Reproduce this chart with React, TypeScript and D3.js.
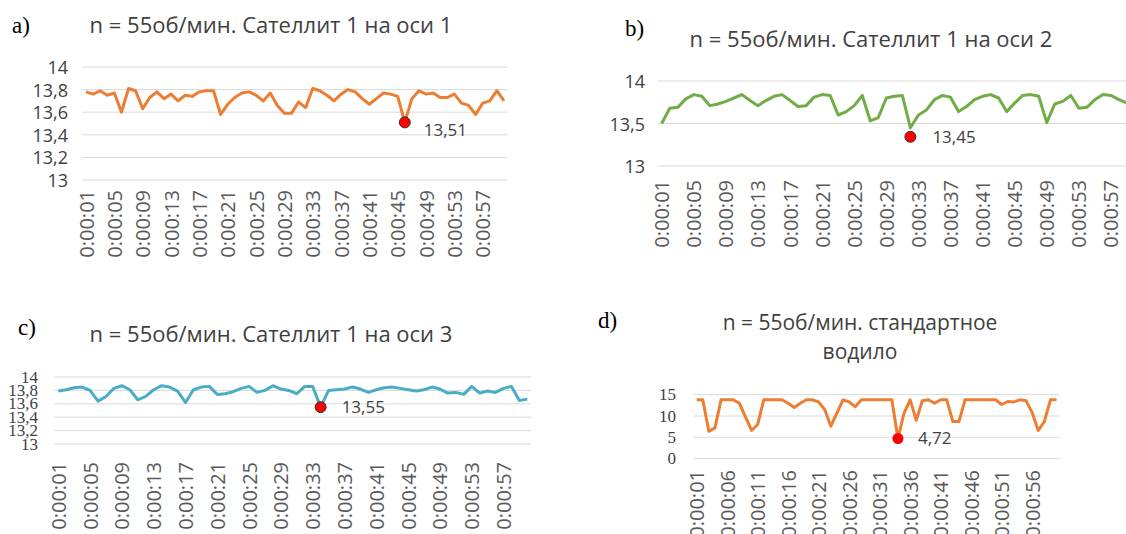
import React from 'react';
import * as d3 from 'd3';

const W = 1126;
const H = 534;

// time categories 0:00:01 … 0:01:00
const timeLabels = d3.range(1, 61).map(s =>
  `0:${String(Math.floor(s / 60)).padStart(2, '0')}:${String(s % 60).padStart(2, '0')}`);

// a) satellite 1 on axis 1
const axis1 = [
  13.78, 13.76, 13.79, 13.75, 13.77, 13.60, 13.81, 13.79, 13.63, 13.73,
  13.78, 13.72, 13.76, 13.70, 13.75, 13.74, 13.78, 13.79, 13.79, 13.58,
  13.67, 13.73, 13.77, 13.78, 13.75, 13.70, 13.77, 13.66, 13.59, 13.59,
  13.69, 13.64, 13.81, 13.79, 13.75, 13.70, 13.76, 13.80, 13.78, 13.72,
  13.67, 13.72, 13.77, 13.76, 13.74, 13.51, 13.72, 13.79, 13.76, 13.77,
  13.73, 13.73, 13.76, 13.68, 13.66, 13.58, 13.68, 13.70, 13.79, 13.70];

// b) satellite 1 on axis 2
const axis2 = [
  13.50, 13.68, 13.69, 13.79, 13.84, 13.82, 13.71, 13.73, 13.76, 13.80,
  13.84, 13.77, 13.71, 13.77, 13.82, 13.84, 13.77, 13.70, 13.71, 13.81,
  13.84, 13.83, 13.60, 13.64, 13.71, 13.83, 13.53, 13.57, 13.80, 13.82,
  13.83, 13.45, 13.60, 13.66, 13.78, 13.83, 13.81, 13.64, 13.70, 13.78,
  13.82, 13.84, 13.80, 13.64, 13.74, 13.83, 13.84, 13.82, 13.51, 13.73,
  13.76, 13.83, 13.68, 13.69, 13.78, 13.84, 13.83, 13.78, 13.74, 13.70];

// c) satellite 1 on axis 3
const axis3 = [
  13.79, 13.81, 13.84, 13.85, 13.80, 13.64, 13.71, 13.83, 13.87, 13.81,
  13.66, 13.71, 13.81, 13.87, 13.85, 13.79, 13.62, 13.81, 13.85, 13.86,
  13.74, 13.75, 13.78, 13.83, 13.86, 13.77, 13.80, 13.87, 13.82, 13.80,
  13.75, 13.86, 13.86, 13.55, 13.80, 13.81, 13.82, 13.85, 13.82, 13.77,
  13.81, 13.84, 13.85, 13.83, 13.81, 13.79, 13.81, 13.85, 13.82, 13.76,
  13.77, 13.74, 13.86, 13.76, 13.79, 13.77, 13.83, 13.86, 13.65, 13.67];

// d) standard carrier
const standard = [
  13.8, 13.8, 6.4, 7.2, 13.8, 13.8, 13.8, 13.0, 9.8, 6.6,
  8.0, 13.8, 13.8, 13.8, 13.8, 13.0, 12.0, 13.0, 13.8, 13.8,
  13.3, 11.5, 7.6, 10.7, 13.8, 13.3, 12.2, 13.8, 13.8, 13.8,
  13.8, 13.8, 13.8, 4.72, 10.7, 13.8, 9.0, 13.6, 13.8, 13.0,
  13.8, 13.8, 8.7, 8.7, 13.8, 13.8, 13.8, 13.8, 13.8, 13.8,
  12.7, 13.4, 13.3, 13.8, 13.6, 10.8, 6.6, 8.7, 13.8, 13.8];

const ticksFine = [13, 13.2, 13.4, 13.6, 13.8, 14];
const ticksHalf = [13, 13.5, 14];
const ticksStd = [0, 5, 10, 15];

const SANS = "'Open Sans', 'Liberation Sans', sans-serif";
const SERIF = "'Liberation Serif', 'Times New Roman', serif";

const panels = [
  {
    letter: 'a)', letterX: 12, letterY: 33,
    title: ['n = 55об/мин. Сателлит 1 на оси 1'], titleX: 271, titleY: [33], titleSize: 22,
    values: axis1, color: '#ED7D31', domain: [13, 14], ticks: ticksFine,
    left: 82.5, right: 507.5, top: 67, bottom: 180,
    tickX: 68, tickFont: SANS, tickSize: 18,
    labelTop: 190, step: 4, markerDy: 0, markerStroke: '#333', labelDx: 19, labelDy: 14,
  },
  {
    letter: 'b)', letterX: 625, letterY: 36,
    title: ['n = 55об/мин. Сателлит 1 на оси 2'], titleX: 871, titleY: [47], titleSize: 22,
    values: axis2, color: '#70AD47', domain: [13, 14], ticks: ticksHalf,
    left: 657.7, right: 1139, top: 81, bottom: 166,
    tickX: 645, tickFont: SANS, tickSize: 18,
    labelTop: 180, step: 4, markerDy: 9, markerStroke: '#333', labelDx: 22, labelDy: 6,
  },
  {
    letter: 'c)', letterX: 18, letterY: 335,
    title: ['n = 55об/мин. Сателлит 1 на оси 3'], titleX: 271, titleY: [342], titleSize: 22,
    values: axis3, color: '#4BACC6', domain: [13, 14], ticks: ticksFine,
    left: 54.3, right: 531.3, top: 377, bottom: 444,
    tickX: 38, tickFont: SERIF, tickSize: 17,
    labelTop: 462, step: 4, markerDy: 0, markerStroke: '#333', labelDx: 21, labelDy: 6,
  },
  {
    letter: 'd)', letterX: 598, letterY: 328,
    title: ['n = 55об/мин. стандартное', 'водило'], titleX: 860, titleY: [330, 359], titleSize: 21,
    values: standard, color: '#ED7D31', domain: [0, 15], ticks: ticksStd,
    left: 693.6, right: 1059.6, top: 394.7, bottom: 458.6,
    tickX: 676, tickFont: SERIF, tickSize: 17,
    labelTop: 470, step: 5, markerDy: 0, markerStroke: 'none', labelDx: 20, labelDy: 6,
  },
];

const fmtComma = (v: number, digits?: number) =>
  (digits === undefined ? String(+v.toFixed(1)) : v.toFixed(digits)).replace('.', ',');

function Panel({ p }: { p: typeof panels[number] }) {
  const x = d3.scaleBand<string>().domain(timeLabels).range([p.left, p.right]);
  const y = d3.scaleLinear().domain(p.domain).range([p.bottom, p.top]);
  const cx = (i: number) => (x(timeLabels[i]) as number) + x.bandwidth() / 2;
  const line = d3.line<number>().x((_, i) => cx(i)).y(v => y(v));
  const iMin = d3.minIndex(p.values);
  const mx = cx(iMin);
  const my = y(p.values[iMin]) + p.markerDy;

  return (
    <g>
      <text x={p.letterX} y={p.letterY} fontFamily={SERIF} fontSize={23} fill="#000">{p.letter}</text>
      {p.title.map((t, k) => (
        <text key={k} x={p.titleX} y={p.titleY[k]} textAnchor="middle" fontFamily={SANS}
          fontSize={p.titleSize} fill="#404040">{t}</text>
      ))}
      {p.ticks.map(t => (
        <g key={t}>
          <line x1={p.left} x2={p.right} y1={y(t)} y2={y(t)} stroke="#D9D9D9" strokeWidth={1} />
          <text x={p.tickX} y={y(t)} textAnchor="end" dominantBaseline="central"
            fontFamily={p.tickFont} fontSize={p.tickSize} fill="#404040">{fmtComma(t)}</text>
        </g>
      ))}
      {timeLabels.map((lab, i) => i % p.step === 0 ? (
        <text key={lab} transform={`translate(${cx(i)},${p.labelTop}) rotate(-90)`}
          textAnchor="end" dominantBaseline="central" fontFamily={SANS} fontSize={20}
          fill="#595959">{lab}</text>
      ) : null)}
      <path d={line(p.values) as string} fill="none" stroke={p.color} strokeWidth={3}
        strokeLinejoin="round" />
      <circle cx={mx} cy={my} r={5.5} fill="#FF0000" stroke={p.markerStroke} strokeWidth={1} />
      <text x={mx + p.labelDx} y={my + p.labelDy} fontFamily={SANS} fontSize={17}
        fill="#404040">{fmtComma(p.values[iMin], 2)}</text>
    </g>
  );
}

export default function App() {
  return (
    <svg width={W} height={H} viewBox={`0 0 ${W} ${H}`}
      style={{ position: 'absolute', left: 0, top: 0, background: '#fff', overflow: 'hidden' }}>
      <rect width={W} height={H} fill="#fff" />
      {panels.map(p => <Panel key={p.letter} p={p} />)}
    </svg>
  );
}
